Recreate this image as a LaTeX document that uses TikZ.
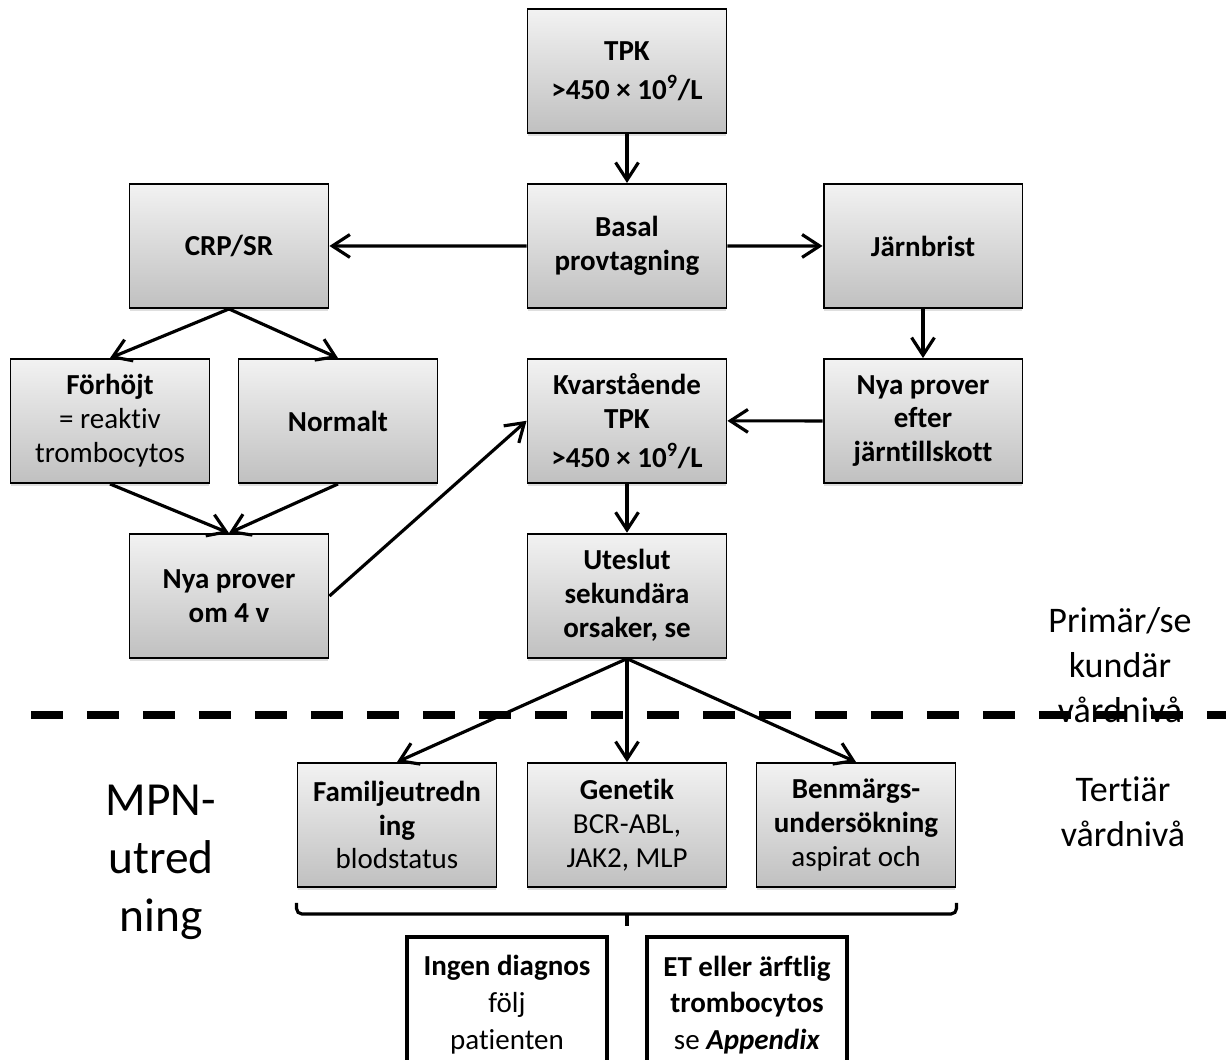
\documentclass[tikz,border=0pt]{standalone}
\usepackage{fontspec}
\setmainfont{Carlito}[Ligatures={NoCommon}]
\usetikzlibrary{positioning,arrows.meta,shadows}

\definecolor{boxtop}{HTML}{F2F2F2}
\definecolor{boxbot}{HTML}{C0C0C0}

\tikzset{
  box/.style={draw, line width=1.1pt, top color=boxtop, bottom color=boxbot,
    minimum width=3.98cm, minimum height=2.48cm, align=center,
    font=\fontsize{16.5}{19.3}\selectfont,
    drop shadow={shadow xshift=0pt, shadow yshift=-0.07cm, opacity=0.25}},
  result/.style={draw, line width=2.3pt, fill=white, minimum width=4cm,
    minimum height=2.72cm, align=center, font=\fontsize{16.5}{21}\selectfont},
  pil/.style={-{Straight Barb[length=10pt,width=13pt]}, line width=1.8pt},
  brace/.style={line width=1.8pt, rounded corners=3pt},
  niva/.style={align=center, font=\fontsize{20.5}{25.6}\selectfont}
}

\begin{document}
\begin{tikzpicture}[x=0.02cm, y=-0.02cm, node distance=0.98cm]
\useasboundingbox (0,0) rectangle (1226,1060);

\node[box] (tpk) at (627,71) {\textbf{TPK}\\[3pt]\textbf{>450 × 10\textsuperscript{9}/L}};
\node[box] (basal) [below=of tpk] {\textbf{Basal}\\\textbf{provtagning}};
\node[box] (crp) at (229,246) {\textbf{CRP/SR}};
\node[box] (jarn) at (923,246) {\textbf{Järnbrist}};
\node[box] (forhojt) at (110,421) {\textbf{Förhöjt}\\= reaktiv\\trombocytos};
\node[box] (normalt) at (338,421) {\textbf{Normalt}};
\node[box] (kvarst) [below=of basal] {\textbf{Kvarstående}\\\textbf{TPK}\\[3pt]\textbf{>450 × 10\textsuperscript{9}/L}};
\node[box] (nyaefter) at (923,421) {\textbf{Nya prover}\\\textbf{efter}\\\textbf{järntillskott}};
\node[box] (nya4v) at (229,596) {\textbf{Nya prover}\\\textbf{om 4 v}};
\node[box] (uteslut) [below=of kvarst] {\textbf{Uteslut}\\\textbf{sekundära}\\\textbf{orsaker, se}};
\node[box] (familj) at (397,825) {\textbf{Familjeutredn}\\\textbf{ing}\\blodstatus};
\node[box] (genetik) at (627,825) {\textbf{Genetik}\\BCR-ABL,\\JAK2, MLP};
\node[box] (benmarg) at (856,825) {\textbf{Benmärgs-}\\\textbf{undersökning}\\aspirat och};

\node[result] (ingen) at (507,1005) {\textbf{Ingen diagnos}\\följ\\patienten};
\node[result] (etapp) at (747,1005) {\textbf{ET eller ärftlig}\\\textbf{trombocytos}\\se \textbf{\textit{Appendix}}};

% nivaer
\node[niva, font=\fontsize{27}{33}\selectfont] (mpn) at (161,862) {MPN-\\utred\\ning};
\node[niva] (primar) at (1120,665) {Primär/se\\kundär\\vårdnivå};
\node[niva] (tertiar) at (1123,812) {Tertiär\\vårdnivå};

\draw[line width=4pt, dash pattern=on 0.64cm off 0.48cm] (31,715) -- (1226,715);

\draw[pil] (tpk) -- (basal);
\draw[pil] (basal) -- (crp);
\draw[pil] (basal) -- (jarn);
\draw[pil] (jarn) -- (nyaefter);
\draw[pil] (nyaefter) -- (kvarst);
\draw[pil] (crp.south) -- (forhojt.north);
\draw[pil] (crp.south) -- (normalt.north);
\draw[pil] (forhojt.south) -- (nya4v.north);
\draw[pil] (normalt.south) -- (nya4v.north);
\draw[pil] (nya4v.east) -- (kvarst.west);
\draw[pil] (kvarst) -- (uteslut);
\draw[pil] (uteslut.south) -- (familj.north);
\draw[pil] (uteslut) -- (genetik);
\draw[pil] (uteslut.south) -- (benmarg.north);

\draw[brace] ([yshift=-0.3cm]familj.south west) |- ([yshift=-0.52cm]genetik.south)
  -| ([yshift=-0.3cm]benmarg.south east);
\draw[brace] ([yshift=-0.52cm]genetik.south) -- ([yshift=-0.76cm]genetik.south);
\end{tikzpicture}
\end{document}
